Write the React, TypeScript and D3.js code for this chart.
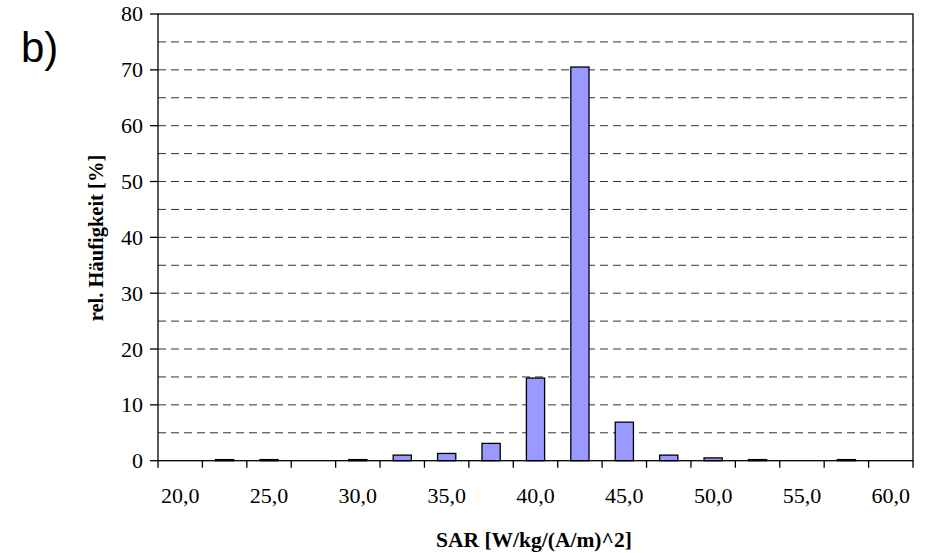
import React from "react";
import * as d3 from "d3";

const categories = ["20,0","22,5","25,0","27,5","30,0","32,5","35,0","37,5","40,0","42,5","45,0","47,5","50,0","52,5","55,0","57,5","60,0"];
const values = [0, 0.2, 0.2, 0, 0.2, 1.0, 1.3, 3.1, 14.8, 70.5, 6.9, 1.0, 0.5, 0.2, 0, 0.2, 0];
const yTicks = [0, 10, 20, 30, 40, 50, 60, 70, 80];
const gridValues = [5, 10, 15, 20, 25, 30, 35, 40, 45, 50, 55, 60, 65, 70, 75];

const W = 928, H = 553;
const left = 158, right = 913, top = 14, bottom = 460.7;

export default function App() {
  const x = d3.scaleBand<string>().domain(categories).range([left, right]).paddingInner(0).paddingOuter(0);
  const y = d3.scaleLinear().domain([0, 80]).range([bottom, top]);
  const bw = x.bandwidth() * 0.41;
  const serif = "'Liberation Serif', 'Times New Roman', serif";
  return (
    <svg width={W} height={H} style={{ position: "absolute", left: 0, top: 0, background: "#fff" }}>
      <text x={21} y={62} fontFamily="'Liberation Sans', Arial, sans-serif" fontSize={42}>b)</text>
      {gridValues.map(v => (
        <line key={v} x1={left} x2={right} y1={y(v)} y2={y(v)} stroke="#333" strokeWidth={1} strokeDasharray="8,5" />
      ))}
      {values.map((v, i) => v > 0 ? (
        <rect key={i} x={x(categories[i])! + (x.bandwidth() - bw) / 2} y={y(v)} width={bw} height={bottom - y(v)}
          fill="#9999FF" stroke="#000" strokeWidth={1.3} />
      ) : null)}
      <rect x={left} y={top} width={right - left} height={bottom - top} fill="none" stroke="#000" strokeWidth={1.3} />
      {yTicks.map(t => (
        <g key={t}>
          <line x1={left - 8} x2={left} y1={y(t)} y2={y(t)} stroke="#000" strokeWidth={1.3} />
          <text x={left - 15} y={y(t)} dy="0.34em" textAnchor="end" fontFamily={serif} fontSize={22}>{t}</text>
        </g>
      ))}
      {categories.map((c, i) => (
        <line key={"t" + i} x1={x(c)!} x2={x(c)!} y1={bottom} y2={bottom + 7} stroke="#000" strokeWidth={1.3} />
      ))}
      <line x1={right} x2={right} y1={bottom} y2={bottom + 7} stroke="#000" strokeWidth={1.3} />
      {categories.map((c, i) => i % 2 === 0 ? (
        <text key={"l" + i} x={x(c)! + x.bandwidth() / 2} y={503} textAnchor="middle" fontFamily={serif} fontSize={22}>{c}</text>
      ) : null)}
      <text x={534} y={547} textAnchor="middle" fontFamily={serif} fontWeight="bold" fontSize={21.5}>SAR [W/kg/(A/m)^2]</text>
      <text transform={`translate(103,238) rotate(-90)`} textAnchor="middle" fontFamily={serif} fontWeight="bold" fontSize={20.5}>rel. Häufigkeit [%]</text>
    </svg>
  );
}
